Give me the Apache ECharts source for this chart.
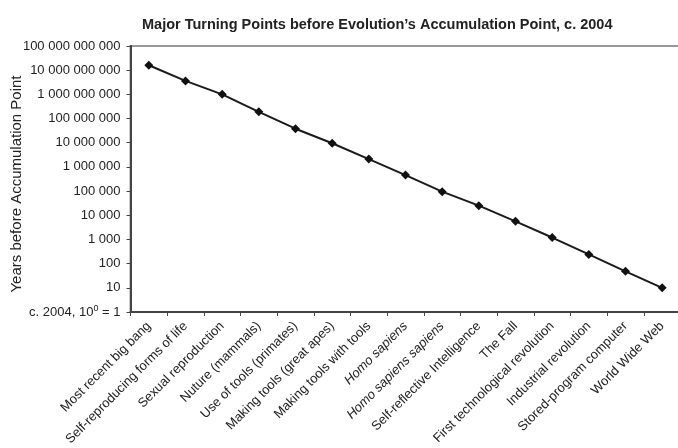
<!DOCTYPE html>
<html>
<head>
<meta charset="utf-8">
<script src="https://cdn.jsdelivr.net/npm/echarts@6/dist/echarts.min.js"></script>
<style>
html,body{margin:0;padding:0;background:#fff;}
#chart{width:678px;height:448px;}
</style>
</head>
<body>
<div id="chart"></div>
<script>
const titleText = 'Major Turning Points before Evolution\u2019s Accumulation Point, c. 2004';
const yAxisName = 'Years before Accumulation Point';
const categories = [
  'Most recent big bang',
  'Self-reproducing forms of life',
  'Sexual reproduction',
  'Nuture (mammals)',
  'Use of tools (primates)',
  'Making tools (great apes)',
  'Making tools with tools',
  'Homo sapiens',
  'Homo sapiens sapiens',
  'Self-reflective Intelligence',
  'The Fall',
  'First technological revolution',
  'Industrial revolution',
  'Stored-program computer',
  'World Wide Web'
];
const italicCategories = ['Homo sapiens', 'Homo sapiens sapiens'];
const yearsBefore = [1.6e10, 3.6e9, 1.0e9, 1.9e8, 3.8e7, 9.5e6, 2.1e6, 4.6e5, 9.5e4, 2.5e4, 5.6e3, 1.2e3, 240, 48, 10];
const yMin = 1;
const yMax = 1e11;
const bottomLabel = ['c. 2004, 10', '0', ' = 1'];

const font = '"Liberation Sans", Arial, Helvetica, sans-serif';
const chart = echarts.init(document.getElementById('chart'), null, {renderer: 'canvas'});

function fmt(v) {
  const n = Math.round(v);
  if (n === 1) return '{a|' + bottomLabel[0] + '}{sup|' + bottomLabel[1] + '}{a|' + bottomLabel[2] + '}';
  return '{a|' + String(n).replace(/\B(?=(\d{3})+(?!\d))/g, ' ') + '}';
}

const option = {
  backgroundColor: '#fff',
  animation: false,
  title: {
    text: titleText,
    left: 137,
    top: 12,
    textStyle: {fontFamily: font, fontWeight: 'bold', fontSize: 14.5, color: '#222'}
  },
  graphic: [{
    type: 'text',
    x: 17,
    y: 184,
    rotation: Math.PI / 2,
    silent: true,
    style: {
      text: yAxisName,
      fontFamily: font,
      fontSize: 15,
      fill: '#222',
      textAlign: 'center',
      textVerticalAlign: 'middle'
    }
  }],
  grid: {
    left: 130.5,
    top: 46,
    right: -2.5,
    bottom: 136,
    show: true,
    borderColor: '#999',
    borderWidth: 2,
    containLabel: false,
    outerBoundsMode: 'none'
  },
  xAxis: {
    type: 'category',
    data: categories.map(c => italicCategories.includes(c) ? {value: c, textStyle: {fontStyle: 'italic'}} : c),
    boundaryGap: true,
    axisLine: {lineStyle: {color: '#444', width: 2}},
    axisTick: {show: true, inside: false, length: 4, lineStyle: {color: '#444', width: 1}},
    axisLabel: {
      rotate: 45,
      interval: 0,
      margin: 12,
      fontFamily: font,
      fontSize: 13,
      color: '#222'
    },
    splitLine: {show: false}
  },
  yAxis: {
    type: 'log',
    logBase: 10,
    min: yMin,
    max: yMax,
    interval: 1,
    splitNumber: 11,
    axisLine: {show: true, lineStyle: {color: '#444', width: 2}},
    axisTick: {show: true, inside: false, length: 4, lineStyle: {color: '#444', width: 1}},
    splitLine: {show: false},
    axisLabel: {
      margin: 10,
      interval: 0,
      hideOverlap: false,
      formatter: fmt,
      rich: {
        a: {fontFamily: font, fontSize: 13, color: '#222'},
        sup: {fontFamily: font, fontSize: 9, color: '#222', padding: [0, 0, 7, 0]}
      }
    }
  },
  series: [{
    type: 'line',
    data: yearsBefore,
    symbol: 'diamond',
    symbolSize: 9,
    lineStyle: {color: '#1a1a1a', width: 2},
    itemStyle: {color: '#111'},
    z: 5
  }]
};
chart.setOption(option);
</script>
</body>
</html>
